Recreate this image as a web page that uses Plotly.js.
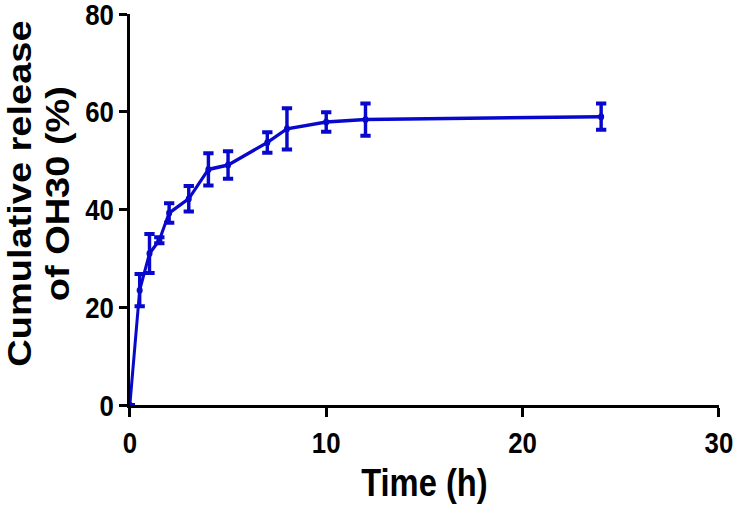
<!DOCTYPE html>
<html>
<head>
<meta charset="utf-8">
<script src="https://cdn.plot.ly/plotly-3.0.1.min.js"></script>
<style>
html,body{margin:0;padding:0;background:#fff;overflow:hidden;}
#wrap{width:735px;height:505px;overflow:hidden;}
#chart{width:855px;height:505px;transform:scaleX(0.86);transform-origin:0 0;}
</style>
</head>
<body>
<div id="wrap"><div id="chart"></div></div>
<script>
// Time points (h)
const timeH = [0, 0.5, 1, 1.5, 2, 3, 4, 5, 7, 8, 10, 12, 24];
// Cumulative release of OH30 (%)
const releasePct = [0, 23.5, 31, 33.7, 39.3, 42.2, 48.2, 49.1, 53.7, 56.5, 57.9, 58.4, 59.0];
// Error (SD)
const releaseErr = [0, 3.3, 4.0, 0.6, 2.0, 2.6, 3.3, 2.8, 2.1, 4.2, 2.0, 3.3, 2.7];
const xTicks = [0, 10, 20, 30];
const yTicks = [0, 20, 40, 60, 80];
const yTitleLines = ['Cumulative release', 'of OH30 (%)'];
const xTitle = 'Time (h)';

const font = 'Liberation Sans, Arial, sans-serif';
const blue = '#0808cc';

const trace = {
  x: timeH, y: releasePct, type: 'scatter', mode: 'lines+markers',
  line: {color: blue, width: 3.5},
  marker: {color: blue, size: 7},
  error_y: {type: 'data', array: releaseErr, visible: true, color: blue, thickness: 4, width: 6},
  cliponaxis: false, showlegend: false
};

const layout = {
  width: 855, height: 505,
  margin: {l: 151, r: 19, t: 14, b: 100},
  paper_bgcolor: '#fff', plot_bgcolor: '#fff',
  font: {family: font, color: '#000'},
  xaxis: {
    range: [0, 30], tickvals: xTicks, ticktext: xTicks.map(String),
    showgrid: false, zeroline: false, showline: true, linecolor: '#000', linewidth: 3,
    ticks: 'outside', ticklen: 9, tickwidth: 3.5, tickcolor: '#000',
    tickfont: {family: font, size: 30, weight: 'bold'},
    ticklabeloverflow: 'allow',
    title: {text: xTitle, font: {family: font, size: 38, weight: 'bold'}, standoff: 12}
  },
  yaxis: {
    range: [0, 80], tickvals: yTicks, ticktext: yTicks.map(String),
    showgrid: false, zeroline: false, showline: true, linecolor: '#000', linewidth: 3.5,
    ticks: 'outside', ticklen: 9, tickwidth: 3, tickcolor: '#000',
    tickfont: {family: font, size: 30, weight: 'bold'},
    ticklabeloverflow: 'allow'
  },
  annotations: yTitleLines.map((t, i) => ({
    text: t, xref: 'paper', yref: 'paper', x: i === 0 ? -0.187 : -0.122, y: 0.54,
    xanchor: 'center', yanchor: 'middle', textangle: -90, showarrow: false,
    font: {family: font, size: 38, weight: 'bold', color: '#000'}
  }))
};

Plotly.newPlot('chart', [trace], layout, {displayModeBar: false, staticPlot: true});
</script>
</body>
</html>
